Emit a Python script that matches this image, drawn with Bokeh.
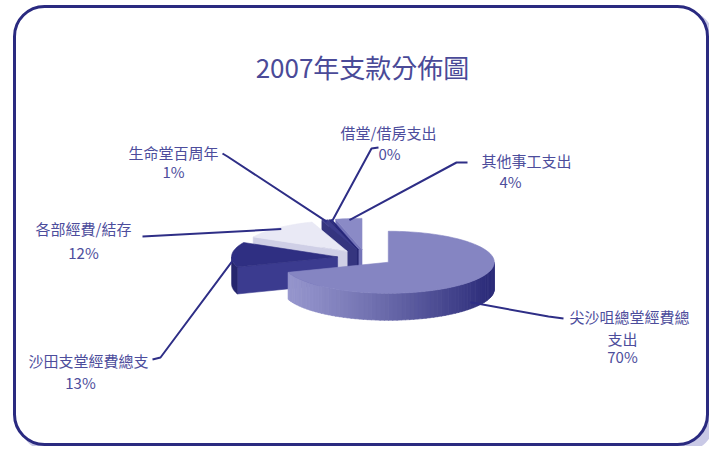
import numpy as np
from bokeh.plotting import figure
from bokeh.models import Range1d, BoxAnnotation
from bokeh.core.properties import value
from bokeh.embed import file_html
from bokeh.resources import INLINE

# ---------------- data ----------------
title = "2007年支款分佈圖"
categories = ["尖沙咀總堂經費總支出", "沙田支堂經費總支", "各部經費/結存",
              "生命堂百周年", "借堂/借房支出", "其他事工支出"]
shares = [70, 13, 12, 1, 0.4, 4]          # percent, clockwise from 12 o'clock
pct_labels = ["70%", "13%", "12%", "1%", "0%", "4%"]

# ---------------- layout / style ----------------
W, H = 709, 446
FONT = value("Noto Sans CJK TC")
def X(px): return px              # page px -> data x
def Y(py): return H - py          # page px -> data y

A, B, D = 106.0, 31.0, 27.0       # ellipse semi-axes and depth (px)
BASE = (365.0, 257.0)             # unexploded pie centre (page px)
EXPL = 28.0

tops  = ["#8585c2", "#2f2f82", "#e9e9f5", "#3c3c8c", "#25257a", "#8a8ac6"]
sides = [None,      "#26266e", "#c2c2de", "#2e2e78", "#20206a", "#6a6ab2"]
walls = ["#6f6fb5", "#3b3b8f", "#cfcfe6", "#35357f", "#22226c", "#7474b8"]
LIGHT = np.array([0x98, 0x98, 0xcf]); DARK = np.array([0x2a, 0x2a, 0x78])

# label placement (page px): text lines centre, leader elbow/end
label_pos = [(629, 316), (88, 360), (83, 228), (173, 152), (388, 132), (526, 160)]
pct_pos   = [(622, 356), (80, 382), (83, 252), (173, 171), (389, 153), (510, 181)]
leader_end = [[(548, 316), (563, 318)], [(160, 357), (152, 359)], [(142, 236)],
              [(227, 156), (222, 153)], [(371, 148), (378, 147)], [(456, 162), (467, 162)]]

p = figure(width=W, height=H, output_backend="svg", toolbar_location=None,
           x_range=Range1d(0, W), y_range=Range1d(0, H),
           x_axis_type=None, y_axis_type=None, min_border=0)
p.grid.visible = False
p.outline_line_color = None
p.background_fill_color = "white"
p.border_fill_color = "white"

# frame with shadow
p.add_layout(BoxAnnotation(left=X(19), right=X(714), top=Y(10), bottom=Y(451),
                           fill_color="#9d9dd2", fill_alpha=0.55, line_alpha=0,
                           border_radius=30, level="underlay"))
p.add_layout(BoxAnnotation(left=X(14), right=X(707), top=Y(6), bottom=Y(444),
                           fill_color="white", fill_alpha=1, line_color="#2a2a80",
                           line_alpha=1, line_width=3, border_radius=30, level="underlay"))

total = float(sum(shares))
starts = np.concatenate([[0], np.cumsum(shares)[:-1]]) / total * 360
ends = np.cumsum(shares) / total * 360
mids = (starts + ends) / 2

def centre(i):
    m = np.radians(mids[i])
    cx = BASE[0] + EXPL * np.sin(m)
    cy = BASE[1] - EXPL * np.cos(m) * (B / A)
    return cx, cy

def pt(cx, cy, th, r=1.0, dz=0.0):
    t = np.radians(th)
    return cx + A * r * np.sin(t), cy - B * r * np.cos(t) + dz

def add_poly(pts, color):
    xs = [X(q[0]) for q in pts]; ys = [Y(q[1]) for q in pts]
    p.patch(xs, ys, fill_color=color, line_color=color, line_width=0.6)

order = sorted(range(len(shares)), key=lambda i: -np.cos(np.radians(mids[i])))
for i in order:
    cx, cy = centre(i)
    t1, t2 = starts[i], ends[i]
    # radial walls
    for t, nrm in ((t1, t1 - 90), (t2, t2 + 90)):
        if np.cos(np.radians(nrm)) < -0.01:
            r0 = (cx, cy); r1 = pt(cx, cy, t)
            add_poly([r0, r1, (r1[0], r1[1] + D), (r0[0], r0[1] + D)], walls[i])
    # outer side (front half only)
    lo, hi = max(t1, 90), min(t2, 270)
    if hi > lo:
        if sides[i] is None:
            n = 70
            th = np.linspace(lo, hi, n + 1)
            for k in range(n):
                a0, a1 = th[k], th[k + 1] + 0.3
                q0 = pt(cx, cy, a0); q1 = pt(cx, cy, min(a1, hi))
                f = (np.sin(np.radians((a0 + a1) / 2)) + 1) / 2
                f = f ** 1.2
                c = LIGHT * (1 - f) + DARK * f
                col = "#%02x%02x%02x" % tuple(int(v) for v in c)
                add_poly([q0, q1, (q1[0], q1[1] + D), (q0[0], q0[1] + D)], col)
        else:
            th = np.linspace(lo, hi, 40)
            top_arc = [pt(cx, cy, t) for t in th]
            bot_arc = [(q[0], q[1] + D) for q in top_arc][::-1]
            add_poly(top_arc + bot_arc, sides[i])
    # top face
    n = max(4, int((t2 - t1) / 2))
    th = np.linspace(t1, t2, n + 1)
    add_poly([(cx, cy)] + [pt(cx, cy, t) for t in th], tops[i])

# leader lines
for i in range(len(shares)):
    cx, cy = centre(i)
    dz = D * 0.85 if i == 0 else 0.0
    start = pt(cx, cy, mids[i], 0.95, dz)
    path = [start] + leader_end[i]
    p.line([X(q[0]) for q in path], [Y(q[1]) for q in path],
           line_color="#2e2e86", line_width=2)

# texts
TXT = "#4d4d9c"
lx, ly, lt = [], [], []
for i, name in enumerate(categories):
    chunks = [name[k:k + 8] for k in range(0, len(name), 8)]
    for j, c in enumerate(chunks):
        lx.append(X(label_pos[i][0] if j == 0 else pct_pos[i][0]))
        ly.append(Y(label_pos[i][1] + 22 * j))
        lt.append(c)
    lx.append(X(pct_pos[i][0])); ly.append(Y(pct_pos[i][1])); lt.append(pct_labels[i])
p.text(x=lx, y=ly, text=lt, text_font=FONT, text_font_size="15px", text_color=TXT,
       text_align="center", text_baseline="middle")
p.text(x=[X(362)], y=[Y(66)], text=[title], text_font=FONT, text_font_size="26px",
       text_color="#4a4a98", text_align="center", text_baseline="middle")

open("out.html", "w").write(file_html(p, INLINE))
